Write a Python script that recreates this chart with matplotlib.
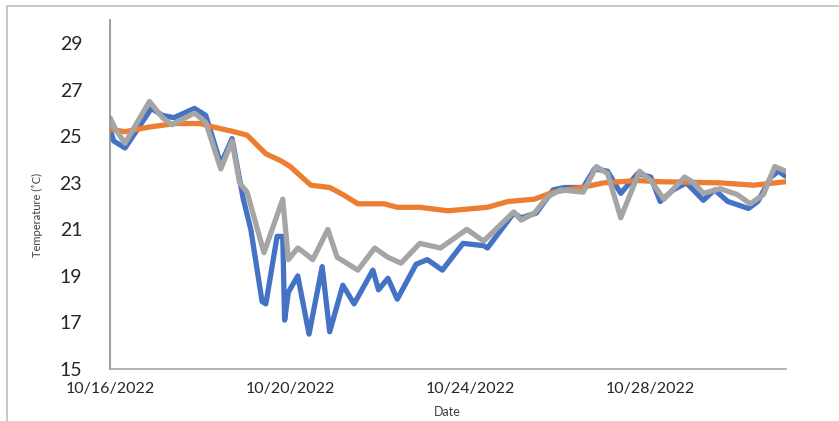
import datetime as dt
import matplotlib
matplotlib.use("Agg")
import matplotlib.pyplot as plt
import matplotlib.dates as mdates
from matplotlib.patches import Rectangle

# logger readings, hours since 10/16/2022 00:00
blue_hours = [0, 2, 8, 22, 28, 34, 45, 51, 59, 65, 71, 75, 81, 83, 89, 92, 93, 95,
              100, 106, 113, 117, 124, 130, 140, 143, 148, 153, 163, 169, 177, 188,
              199, 201, 215, 219, 227, 236, 242, 252, 258, 265, 272, 281, 288, 293,
              300, 307, 316, 322, 329, 340, 345, 352, 356, 359.5]
blue_temp = [25.3, 24.8, 24.5, 26.2, 25.9, 25.8, 26.2, 25.9, 23.8, 24.9, 22.3, 21.0,
             17.9, 17.8, 20.7, 20.7, 17.1, 18.3, 19.0, 16.5, 19.4, 16.6, 18.6, 17.8,
             19.25, 18.4, 18.9, 18.0, 19.5, 19.7, 19.25, 20.4, 20.3, 20.2, 21.7, 21.5,
             21.7, 22.7, 22.8, 22.8, 23.6, 23.5, 22.55, 23.4, 23.25, 22.2, 22.7, 23.0,
             22.25, 22.7, 22.2, 21.9, 22.2, 23.25, 23.5, 23.3]

orange_hours = [0, 8, 21, 35, 48, 55, 66, 73, 83, 91, 96, 107, 117, 124, 132, 146,
                153, 165, 180, 201, 212, 226, 236, 251, 263, 281, 293, 325, 343, 360]
orange_temp = [25.3, 25.2, 25.4, 25.55, 25.55, 25.4, 25.2, 25.05, 24.25, 23.95, 23.7,
               22.9, 22.8, 22.5, 22.1, 22.1, 21.95, 21.95, 21.8, 21.95, 22.2, 22.3,
               22.6, 22.8, 23.0, 23.1, 23.05, 23.0, 22.9, 23.05]

gray_hours = [0, 3, 8, 21, 28, 33, 45, 51, 59, 65, 69, 73, 82, 92, 95, 100, 105, 108,
              116, 121, 126, 132, 141, 148, 155, 165, 176, 190, 199, 215, 219, 226,
              233, 240, 252, 259, 265, 272, 282, 288, 295, 306, 311, 316, 325, 334,
              341, 348, 354, 357, 360]
gray_temp = [25.8, 25.3, 24.7, 26.5, 25.8, 25.5, 26.0, 25.6, 23.6, 24.8, 23.0, 22.6,
             20.0, 22.3, 19.7, 20.2, 19.9, 19.7, 21.0, 19.8, 19.55, 19.25, 20.2, 19.8,
             19.55, 20.4, 20.2, 21.0, 20.5, 21.75, 21.4, 21.7, 22.4, 22.7, 22.6, 23.7,
             23.4, 21.5, 23.5, 23.1, 22.3, 23.25, 23.0, 22.55, 22.75, 22.5, 22.1, 22.5,
             23.7, 23.6, 23.5]

start = dt.datetime(2022, 10, 16)
tick_dates = [dt.datetime(2022, 10, d) for d in (16, 20, 24, 28)]


def to_dates(hours):
    return [start + dt.timedelta(hours=h) for h in hours]


plt.rcParams['font.family'] = ['Lato', 'DejaVu Sans']

fig = plt.figure(figsize=(8.39, 4.21), dpi=100)
ax = fig.add_axes([0.1311, 0.1235, 0.8057, 0.829])

for hrs, temps, col in [(blue_hours, blue_temp, '#4472C4'),
                        (orange_hours, orange_temp, '#ED7D31'),
                        (gray_hours, gray_temp, '#A5A5A5')]:
    ax.plot(to_dates(hrs), temps, color=col, lw=3.8,
            solid_joinstyle='round', solid_capstyle='round')

ax.set_xlim(start, dt.datetime(2022, 10, 31))
ax.set_ylim(15, 30)
ax.set_yticks(range(15, 30, 2))
ax.set_xticks(tick_dates)
ax.xaxis.set_major_formatter(mdates.DateFormatter('%m/%d/%Y'))

ax.tick_params(axis='y', length=0, pad=20, labelsize=14, labelcolor='#262626')
ax.tick_params(axis='x', length=0, pad=9, labelsize=11.5, labelcolor='#262626')

for side in ('top', 'right'):
    ax.spines[side].set_visible(False)
ax.spines['left'].set_color('#8c8c8c')
ax.spines['bottom'].set_color('#a6a6a6')
ax.spines['left'].set_linewidth(1.2)
ax.spines['bottom'].set_linewidth(1.2)

ax.set_ylabel('Temperature (˚C)', fontsize=8, color='#404040')
ax.yaxis.set_label_coords(-0.099, 0.441)
ax.set_xlabel('Date', fontsize=9, color='#404040')
ax.xaxis.set_label_coords(0.4985, -0.105)

# chart area frame
fig.add_artist(Rectangle((7 / 839, -0.05), 1.1, 1.05 - 6 / 421,
                         transform=fig.transFigure, fill=False,
                         edgecolor='#bfbfbf', lw=1.2))

fig.savefig('out.png', dpi=100)
